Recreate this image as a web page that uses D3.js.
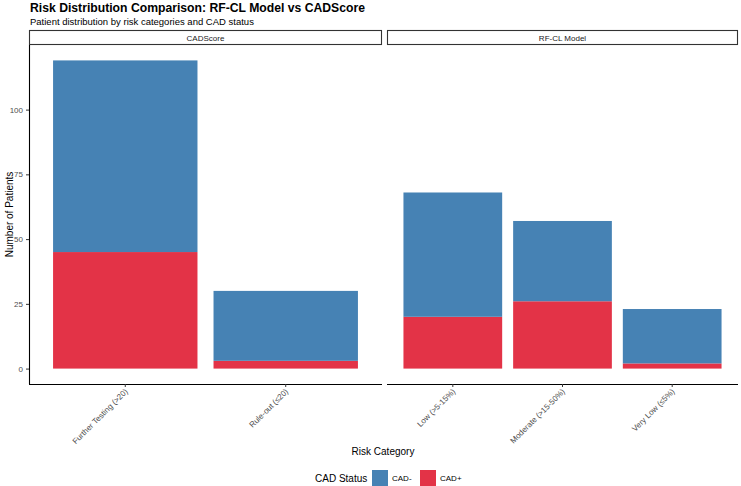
<!DOCTYPE html>
<html>
<head>
<meta charset="utf-8">
<script src="https://cdn.jsdelivr.net/npm/d3@7"></script>
<style>
  body { margin: 0; background: #fff; }
  text { font-family: "Liberation Sans", Arial, sans-serif; }
</style>
</head>
<body>
<div id="chart"></div>
<script>
// data
const panels = ["CADScore", "RF-CL Model"]
const cadscoreCats = ["Further Testing (>20)", "Rule-out (≤20)"]
const rfclCats = ["Low (>5-15%)", "Moderate (>15-50%)", "Very Low (≤5%)"]
const cadscorePos = [45, 3]
const cadscoreNeg = [74, 27]
const rfclPos = [20, 26, 2]
const rfclNeg = [48, 31, 21]
const statusKeys = ["CAD-", "CAD+"]
const yTicks = [0, 25, 50, 75, 100]

const width = 741, height = 486
const svg = d3.select("#chart").append("svg")
    .attr("width", width)
    .attr("height", height)

const color = d3.scaleOrdinal()
    .domain(statusKeys)
    .range(["#4682B4", "#E33347"])

// panel geometry
const plotTop = 45, plotBottom = 384
const panelX = [[29, 382], [387, 738]]

const maxTotal = d3.max([...cadscorePos.map((d, i) => d + cadscoreNeg[i]), ...rfclPos.map((d, i) => d + rfclNeg[i])])
const pad = maxTotal * 0.05
const y = d3.scaleLinear()
    .domain([-pad, maxTotal + pad])
    .range([plotBottom, plotTop])

const panelData = [
  {name: panels[0], cats: cadscoreCats, pos: cadscorePos, neg: cadscoreNeg},
  {name: panels[1], cats: rfclCats, pos: rfclPos, neg: rfclNeg}
]

// titles
svg.append("text").attr("x", 30).attr("y", 12)
    .attr("font-size", 12.2).attr("font-weight", "bold").attr("fill", "#000")
    .text("Risk Distribution Comparison: RF-CL Model vs CADScore")
svg.append("text").attr("x", 30).attr("y", 25)
    .attr("font-size", 9.5).attr("fill", "#000")
    .text("Patient distribution by risk categories and CAD status")

panelData.forEach((p, pi) => {
  const [x0, x1] = panelX[pi]
  const n = p.cats.length
  const unit = (x1 - x0) / (n - 1 + 1.2)
  const x = d3.scaleBand()
      .domain(p.cats)
      .range([x0 + 0.1 * unit, x1 - 0.1 * unit])
      .paddingInner(0.1).paddingOuter(0.05)

  const rows = p.cats.map((c, i) => ({cat: c, "CAD+": p.pos[i], "CAD-": p.neg[i]}))
  const stacked = d3.stack().keys(["CAD+", "CAD-"])(rows)

  const g = svg.append("g")
  g.selectAll("g")
    .data(stacked)
    .join("g")
      .attr("fill", d => color(d.key))
    .selectAll("rect")
    .data(d => d)
    .join("rect")
      .attr("x", d => x(d.data.cat))
      .attr("y", d => y(d[1]))
      .attr("height", d => y(d[0]) - y(d[1]))
      .attr("width", x.bandwidth())

  // strip
  svg.append("rect")
      .attr("x", x0 + 0.5).attr("y", 30.5)
      .attr("width", x1 - x0 - 1).attr("height", 14)
      .attr("fill", "#fff").attr("stroke", "#333").attr("stroke-width", 1.1)
  svg.append("text")
      .attr("x", (x0 + x1) / 2).attr("y", 40.5)
      .attr("text-anchor", "middle").attr("font-size", 8).attr("fill", "#1a1a1a")
      .text(p.name)

  // x axis
  const xa = svg.append("g")
      .attr("transform", `translate(0,${plotBottom})`)
      .call(d3.axisBottom(x).tickSizeOuter(0).tickSize(3))
  xa.select(".domain").attr("stroke", "#000").attr("stroke-width", 1.1)
      .attr("d", `M${x0},0.5H${x1}`)
  xa.selectAll(".tick line").attr("stroke", "#333")
  xa.selectAll(".tick text")
      .attr("font-size", 8).attr("fill", "#4d4d4d")
      .attr("text-anchor", "end")
      .attr("dx", 0).attr("dy", 0)
      .attr("transform", "translate(3,8) rotate(-45)")
      .attr("y", 0).attr("x", 0)

  if (pi === 0) {
    const ya = svg.append("g")
        .attr("transform", `translate(${x0},0)`)
        .call(d3.axisLeft(y).tickValues(yTicks).tickSize(3).tickSizeOuter(0))
    ya.select(".domain").attr("stroke", "#000").attr("stroke-width", 1.1)
        .attr("d", `M0.5,${plotTop}V${plotBottom}`)
    ya.selectAll(".tick line").attr("stroke", "#333")
    ya.selectAll(".tick text").attr("font-size", 8).attr("fill", "#4d4d4d")
  }
})

// axis titles
svg.append("text")
    .attr("transform", `translate(9,${(plotTop + plotBottom) / 2}) rotate(-90)`)
    .attr("text-anchor", "middle").attr("dy", "0.35em")
    .attr("font-size", 10).attr("fill", "#000")
    .text("Number of Patients")
svg.append("text")
    .attr("x", 383).attr("y", 455)
    .attr("text-anchor", "middle").attr("font-size", 10).attr("fill", "#000")
    .text("Risk Category")

// legend
const leg = svg.append("g").attr("transform", "translate(315,478)")
leg.append("text").attr("x", 0).attr("y", 3.5)
    .attr("font-size", 10).attr("fill", "#000").text("CAD Status")
statusKeys.forEach((k, i) => {
  const lx = 57 + i * 48
  leg.append("rect").attr("x", lx).attr("y", -8).attr("width", 16).attr("height", 16)
      .attr("fill", color(k))
  leg.append("text").attr("x", lx + 20).attr("y", 3)
      .attr("font-size", 8).attr("fill", "#000").text(k)
})
</script>
</body>
</html>
